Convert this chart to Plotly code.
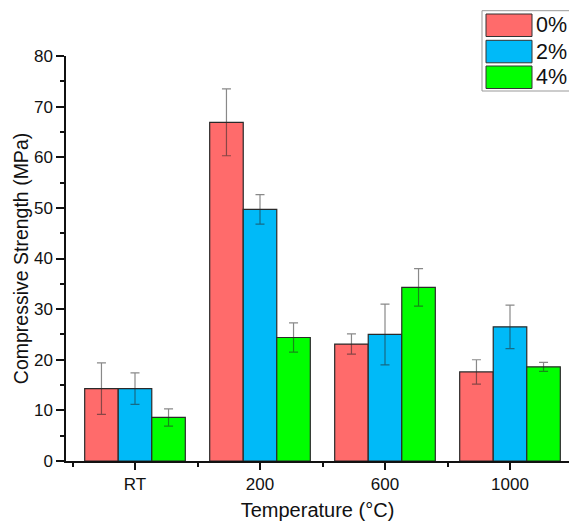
import plotly.graph_objects as go

categories = ["RT", "200", "600", "1000"]
series_names = ["0%", "2%", "4%"]
values_0 = [14.3, 66.9, 23.1, 17.6]
values_2 = [14.3, 49.7, 25.0, 26.5]
values_4 = [8.6, 24.4, 34.3, 18.6]
errors_0 = [5.1, 6.6, 2.0, 2.4]
errors_2 = [3.1, 2.9, 6.0, 4.3]
errors_4 = [1.7, 2.9, 3.7, 0.9]
y_ticks = [0, 10, 20, 30, 40, 50, 60, 70, 80]

colors = ["#FF6B6B", "#00BAF8", "#00FF00"]
series_vals = [values_0, values_2, values_4]
series_errs = [errors_0, errors_2, errors_4]

FONT = "Liberation Sans, Arial, sans-serif"
xpos = list(range(len(categories)))

fig = go.Figure()
for name, vals, errs, col in zip(series_names, series_vals, series_errs, colors):
    fig.add_trace(go.Bar(
        x=xpos, y=vals, name=name,
        marker=dict(color=col, line=dict(color="#2a2a2a", width=1.2)),
        error_y=dict(type="data", array=errs, visible=True,
                     color="rgba(40,40,40,0.55)", thickness=1.2, width=4.5),
        showlegend=False,
    ))

fig.update_layout(
    width=569, height=524,
    margin=dict(l=66, r=0, t=56, b=63),
    plot_bgcolor="white", paper_bgcolor="white",
    barmode="group", bargap=0.195, bargroupgap=0,
    font=dict(family=FONT, color="#111", size=17),
    xaxis=dict(
        range=[-0.552, 3.472], tickvals=xpos, ticktext=categories,
        showline=True, linecolor="#111", linewidth=1.5,
        ticks="outside", ticklen=7, tickwidth=1.5, tickcolor="#111",
        minor=dict(dtick=0.5, tick0=0, ticks="outside", ticklen=4, tickwidth=1.5, tickcolor="#111"),
        showgrid=False, zeroline=False,
        tickfont=dict(size=17),
        title=dict(text="Temperature (°C)", font=dict(size=20), standoff=10),
    ),
    yaxis=dict(
        range=[0, 80], tickvals=y_ticks,
        showline=True, linecolor="#111", linewidth=1.5,
        ticks="outside", ticklen=8, tickwidth=1.5, tickcolor="#111",
        minor=dict(dtick=5, ticks="outside", ticklen=4, tickwidth=1.5, tickcolor="#111"),
        showgrid=False, zeroline=False,
        tickfont=dict(size=17),
        title=dict(text="Compressive Strength (MPa)", font=dict(size=19.5), standoff=0),
    ),
)

# Manual legend (box with wide swatches, matching the reference)
shapes = [dict(type="rect", xref="paper", yref="paper",
               x0=(482 - 66) / 503, x1=1.2, y0=(461 - 91) / 405, y1=(461 - 10.7) / 405,
               line=dict(color="#999", width=1), fillcolor="white", layer="above")]
annotations = []
row_tops = [14, 40.3, 66]
for name, col, top in zip(series_names, colors, row_tops):
    y0 = (461 - (top + 22.5)) / 405
    y1 = (461 - top) / 405
    shapes.append(dict(type="rect", xref="paper", yref="paper",
                       x0=(486 - 66) / 503, x1=(532 - 66) / 503, y0=y0, y1=y1,
                       line=dict(color="#333", width=1), fillcolor=col, layer="above"))
    annotations.append(dict(xref="paper", yref="paper", x=(534 - 66) / 503, y=(y0 + y1) / 2,
                            text=name, showarrow=False, xanchor="left", yanchor="middle",
                            font=dict(size=21.5, color="#111", family=FONT)))
fig.update_layout(shapes=shapes, annotations=annotations)

fig.write_html("out.html")
